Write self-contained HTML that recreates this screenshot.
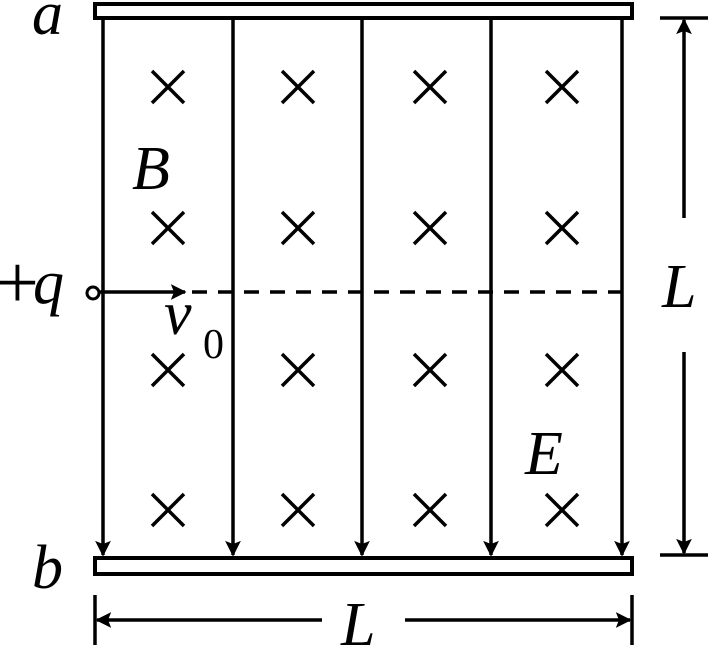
<!DOCTYPE html>
<html>
<head>
<meta charset="utf-8">
<style>
html,body{margin:0;padding:0;background:#fff;}
svg{display:block;}
text{font-family:"Liberation Serif","DejaVu Serif",serif;fill:#000;}
.it{font-style:italic;}
.up{font-style:normal;}
</style>
</head>
<body>
<svg width="712" height="648" viewBox="0 0 712 648">
  <defs>
    <marker id="ah" viewBox="0 0 10 10" refX="9" refY="5" markerWidth="7" markerHeight="4.5" orient="auto" markerUnits="strokeWidth">
      <path d="M0,0 L10,5 L0,10 L2,5 Z" fill="#000"/>
    </marker>
  </defs>
  <rect x="95" y="4" width="537" height="14" fill="#fff" stroke="#000" stroke-width="4"/>
  <rect x="95" y="558" width="537" height="16" fill="#fff" stroke="#000" stroke-width="4"/>
  <text class="it" x="32" y="34" font-size="62">a</text>
  <text class="it" x="32" y="588" font-size="62">b</text>

  <g stroke="#000" stroke-width="3.5" fill="none">
    <line x1="103" y1="18" x2="103" y2="555" marker-end="url(#ah)"/>
    <line x1="233" y1="18" x2="233" y2="555" marker-end="url(#ah)"/>
    <line x1="362" y1="18" x2="362" y2="555" marker-end="url(#ah)"/>
    <line x1="491" y1="18" x2="491" y2="555" marker-end="url(#ah)"/>
    <line x1="622" y1="18" x2="622" y2="555" marker-end="url(#ah)"/>
  </g>

  <g stroke="#000" stroke-width="3.5" id="crosses"></g>

  <text class="it" x="132" y="189" font-size="62">B</text>
  <text class="it" x="525" y="474" font-size="62">E</text>

  <text class="up" x="-4" y="308" font-size="76">+</text>
  <text class="it" x="33" y="303" font-size="62">q</text>
  <circle cx="93" cy="293" r="6" fill="#fff" stroke="#000" stroke-width="3"/>
  <line x1="99" y1="292" x2="185" y2="292" stroke="#000" stroke-width="3.5" marker-end="url(#ah)"/>
  <line x1="192" y1="292" x2="622" y2="292" stroke="#000" stroke-width="3.5" stroke-dasharray="15,11"/>
  <text class="it" x="164" y="334" font-size="62">v</text>
  <text class="up" x="203" y="358" font-size="42">0</text>

  <g stroke="#000" stroke-width="3.5">
    <line x1="660" y1="18" x2="708" y2="18"/>
    <line x1="660" y1="555" x2="708" y2="555"/>
    <line x1="684" y1="218" x2="684" y2="20" marker-end="url(#ah)"/>
    <line x1="684" y1="352" x2="684" y2="553" marker-end="url(#ah)"/>
  </g>
  <text class="it" x="662" y="307" font-size="62">L</text>

  <g stroke="#000" stroke-width="3.5">
    <line x1="95" y1="595" x2="95" y2="645"/>
    <line x1="632" y1="595" x2="632" y2="645"/>
    <line x1="322" y1="620" x2="97" y2="620" marker-end="url(#ah)"/>
    <line x1="405" y1="620" x2="630" y2="620" marker-end="url(#ah)"/>
  </g>
  <text class="it" x="341" y="645" font-size="62">L</text>
</svg>
<script>
const crossXs=[168,298,430,562];
const crossYs=[87,228,370,510];
const g=document.getElementById('crosses');
const ns='http://www.w3.org/2000/svg';
crossYs.forEach(y=>crossXs.forEach(x=>{
  const p=document.createElementNS(ns,'path');
  p.setAttribute('d',`M${x-16},${y-16}L${x+16},${y+16}M${x+16},${y-16}L${x-16},${y+16}`);
  
  
  g.appendChild(p);
}));
</script>
</body>
</html>
